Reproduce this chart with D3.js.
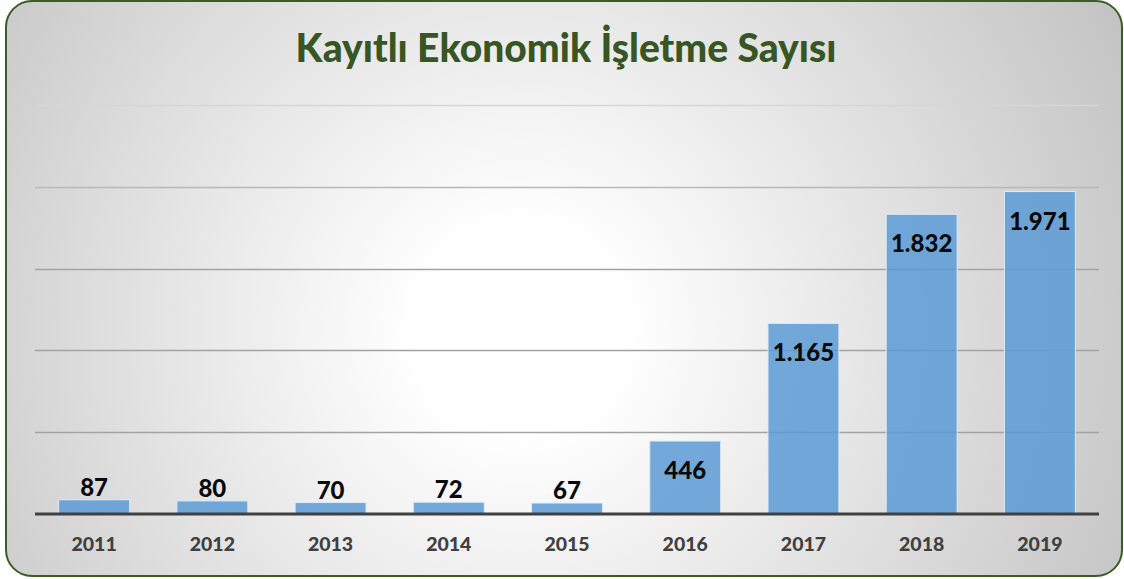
<!DOCTYPE html>
<html><head><meta charset="utf-8">
<script src="https://cdn.jsdelivr.net/npm/d3@7"></script>
<style>html,body{margin:0;padding:0;background:#fff;}svg{display:block;}</style>
</head><body>
<script>
const title = "Kayıtlı Ekonomik İşletme Sayısı";
const years = ["2011","2012","2013","2014","2015","2016","2017","2018","2019"];
const values = [87, 80, 70, 72, 67, 446, 1165, 1832, 1971];
const labels = ["87","80","70","72","67","446","1.165","1.832","1.971"];
const yTicks = [0, 500, 1000, 1500, 2000, 2500];

const W = 1124, H = 579;
const svg = d3.select("body").append("svg").attr("width", W).attr("height", H);
const defs = svg.append("defs");
const rg = defs.append("radialGradient").attr("id","bg")
  .attr("gradientUnits","userSpaceOnUse").attr("cx",520).attr("cy",330).attr("r",690);
rg.append("stop").attr("offset","0").attr("stop-color","#ffffff");
rg.append("stop").attr("offset","0.15").attr("stop-color","#ffffff");
rg.append("stop").attr("offset","1").attr("stop-color","#c2c2c2");

svg.append("rect").attr("x",6).attr("y",1).attr("width",1116).attr("height",575)
  .attr("rx",26).attr("ry",26).attr("fill","url(#bg)")
  .attr("stroke","#3a5d24").attr("stroke-width",2);

const x = d3.scaleBand().domain(years).range([35, 1099]).paddingInner(0.4).paddingOuter(0.2);
const y = d3.scaleLinear().domain([0, 2500]).range([514, 105]);

svg.append("text").attr("x", 566).attr("y", 62).attr("text-anchor","middle")
  .attr("font-family","Lato").attr("font-weight","900").attr("font-size",39)
  .attr("fill","#375623").text(title);

// gridlines
svg.append("g").selectAll("line").data(yTicks.filter(d => d > 0)).join("line")
  .attr("x1", 35).attr("x2", 1099)
  .attr("y1", d => Math.round(y(d)) + 0.5).attr("y2", d => Math.round(y(d)) + 0.5)
  .attr("stroke", d => d === 2500 ? "#d6d6d6" : (d === 2000 ? "#b8b8b8" : "#a3a3a3"))
  .attr("stroke-width", 1.3);

// bars
svg.append("g").selectAll("rect").data(values).join("rect")
  .attr("x", (d,i) => x(years[i]))
  .attr("width", x.bandwidth())
  .attr("y", d => y(d))
  .attr("height", d => y(0) - y(d))
  .attr("fill", "#5b9bd5").attr("fill-opacity", 0.85)
  .attr("stroke", "#deebf7").attr("stroke-width", 1);

// baseline axis
const xAxis = d3.axisBottom(x).tickSize(0).tickPadding(23);
const ax = svg.append("g").attr("transform", `translate(0,${y(0)})`).call(xAxis);
ax.select(".domain").attr("stroke","#404040").attr("stroke-width",3)
  .attr("d", "M35,0H1099");
ax.selectAll("text").attr("font-family","Lato").attr("font-weight","900")
  .attr("font-size",19.5).attr("fill","#404040");

// data labels
svg.append("g").selectAll("text").data(values).join("text")
  .attr("x", (d,i) => x(years[i]) + x.bandwidth()/2)
  .attr("y", d => d > 300 ? y(d) + 38 : y(d) - 4)
  .attr("text-anchor","middle")
  .attr("font-family","Lato").attr("font-weight","900").attr("font-size",24)
  .attr("fill","#0a0a0a")
  .text((d,i) => labels[i]);
</script>
</body></html>
